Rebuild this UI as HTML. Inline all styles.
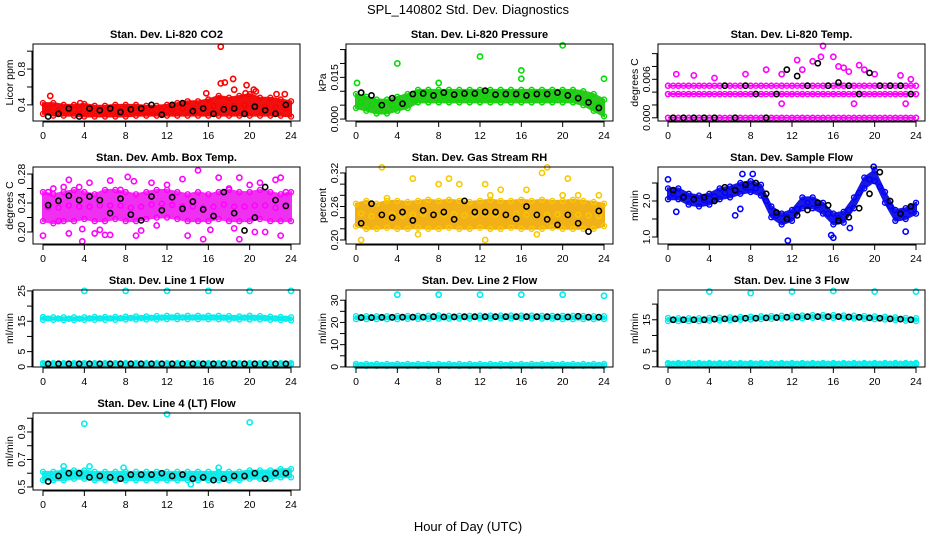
<!DOCTYPE html>
<html><head><meta charset="utf-8"><style>
html,body{margin:0;padding:0;background:#fff;}
svg{display:block;font-family:"Liberation Sans",sans-serif;}
.pt{font-weight:bold;font-size:11px;}
.tk{font-size:10.5px;}
</style></head><body>
<svg id="chart" width="936" height="540" viewBox="0 0 936 540">
<text x="468" y="14" text-anchor="middle" font-size="13">SPL_140802  Std. Dev. Diagnostics</text>
<text x="468" y="531" text-anchor="middle" font-size="13">Hour of Day (UTC)</text>
</svg>
<script>
const hours = [0,1,2,3,4,5,6,7,8,9,10,11,12,13,14,15,16,17,18,19,20,21,22,23,24];
const blackHours = [0.5,1.5,2.5,3.5,4.5,5.5,6.5,7.5,8.5,9.5,10.5,11.5,12.5,13.5,14.5,15.5,16.5,17.5,18.5,19.5,20.5,21.5,22.5,23.5];
const xTicks = [0,4,8,12,16,20,24];

// Panel 1 CO2
const co2Lo = [0.30,0.28,0.28,0.28,0.27,0.27,0.27,0.27,0.27,0.28,0.28,0.28,0.28,0.28,0.28,0.28,0.28,0.28,0.28,0.28,0.28,0.28,0.28,0.28,0.27];
const co2Hi = [0.42,0.42,0.40,0.40,0.41,0.39,0.39,0.40,0.40,0.40,0.39,0.39,0.40,0.42,0.44,0.44,0.46,0.50,0.48,0.50,0.52,0.48,0.48,0.46,0.44];
const co2Out = [[0.7,0.5],[17.2,1.05],[17.2,0.64],[17.6,0.65],[18.4,0.69],[18.5,0.57],[19.7,0.62],[19.6,0.53],[20.4,0.57],[20.6,0.55],[22.6,0.52],[23.4,0.52],[3.6,0.42],[15.8,0.53]];
const co2Black = [0.27,0.30,0.36,0.27,0.36,0.34,0.36,0.32,0.35,0.36,0.40,0.29,0.40,0.42,0.33,0.36,0.30,0.35,0.36,0.30,0.38,0.34,0.30,0.40];
// Panel 2 Pressure
const prLo = [0.004,0.003,0.002,0.002,0.003,0.004,0.006,0.006,0.006,0.006,0.006,0.006,0.006,0.006,0.006,0.006,0.006,0.006,0.006,0.006,0.006,0.006,0.005,0.003,0.001];
const prHi = [0.009,0.008,0.007,0.007,0.008,0.009,0.0105,0.0105,0.0105,0.0105,0.0105,0.0105,0.0105,0.0105,0.0105,0.0105,0.0105,0.0105,0.0105,0.0105,0.0105,0.0105,0.010,0.009,0.007];
const prOut = [[0.1,0.013],[0.5,0.0095],[4,0.020],[8,0.013],[12,0.0225],[16,0.0175],[16,0.0145],[20,0.0265],[24,0.0145]];
const prBlack = [0.0095,0.0085,0.005,0.0075,0.0055,0.009,0.0092,0.0085,0.0095,0.0088,0.0092,0.0092,0.0102,0.0088,0.009,0.009,0.0085,0.009,0.009,0.0095,0.0085,0.0075,0.006,0.004];
// Panel 3 Li-820 temp
const ltA = [0,0,0,0,0,0,0,0,0,0,0,0,0,0,0,0,0,0,0,0,0,0,0,0,0];
const ltB = [0.0037,0.0037,0.0037,0.0037,0.0037,0.0037,0.0037,0.0037,0.0037,0.0037,0.0037,0.0037,0.0037,0.0037,0.0037,0.0037,0.0037,0.0037,0.0037,0.0037,0.0037,0.0037,0.0037,0.0037,0.0037];
const ltC = [0.005,0.005,0.005,0.005,0.005,0.005,0.005,0.005,0.005,0.005,0.005,0.005,0.005,0.005,0.005,0.005,0.005,0.005,0.005,0.005,0.005,0.005,0.005,0.005,0.005];
const ltOut = [[0.8,0.0068],[2.5,0.0066],[4.5,0.0062],[7.5,0.0068],[9.5,0.0075],[11,0.0068],[12.5,0.009],[13,0.0075],[14,0.0088],[14.8,0.0095],[15,0.0112],[16,0.0095],[16.5,0.008],[17,0.0078],[17.5,0.0072],[18.5,0.0082],[19,0.0075],[20,0.0068],[22.5,0.0066],[11,0.0022],[18,0.0022],[23,0.0022],[23.5,0.006]];
const ltBlack = [0,0,0,0,0,0.005,0,0.005,0.0037,0,0.0037,0.0075,0.0065,0.005,0.0085,0.005,0.0055,0.005,0.0037,0.007,0.005,0.005,0.005,0.0037];
// Panel 4 Amb box temp
const abLo = [0.215,0.212,0.215,0.215,0.218,0.215,0.215,0.218,0.215,0.215,0.218,0.22,0.22,0.218,0.215,0.215,0.215,0.218,0.215,0.215,0.215,0.218,0.215,0.215,0.215];
const abHi = [0.255,0.252,0.255,0.258,0.255,0.252,0.258,0.258,0.255,0.252,0.255,0.258,0.258,0.255,0.252,0.255,0.252,0.255,0.258,0.255,0.255,0.258,0.255,0.252,0.255];
const abOut = [[0,0.195],[0.5,0.255],[1,0.26],[1.5,0.215],[2,0.262],[2.5,0.272],[2.5,0.198],[3.5,0.262],[3.8,0.204],[3.8,0.187],[4.5,0.268],[5,0.198],[5.5,0.203],[6,0.196],[6.5,0.271],[6.5,0.196],[7.5,0.258],[8.2,0.276],[8.8,0.27],[9,0.195],[9.5,0.202],[10.5,0.268],[11,0.209],[12,0.265],[13.5,0.273],[14,0.195],[15,0.285],[15.5,0.19],[16.2,0.203],[17,0.275],[18,0.26],[18.5,0.205],[19,0.275],[19,0.19],[20,0.265],[20.5,0.2],[21,0.268],[21.5,0.2],[22.5,0.272],[23,0.275],[23,0.195],[23.5,0.255]];
const abBlack = [0.237,0.243,0.25,0.244,0.249,0.244,0.226,0.246,0.224,0.216,0.249,0.23,0.248,0.232,0.242,0.231,0.222,0.255,0.226,0.202,0.22,0.262,0.244,0.236];
// Panel 5 RH
const rhLo = [0.225,0.22,0.22,0.222,0.22,0.22,0.222,0.22,0.22,0.222,0.22,0.22,0.222,0.22,0.22,0.222,0.22,0.22,0.22,0.222,0.22,0.22,0.22,0.22,0.225];
const rhHi = [0.265,0.27,0.265,0.27,0.27,0.268,0.27,0.272,0.27,0.272,0.27,0.268,0.27,0.272,0.27,0.27,0.272,0.27,0.272,0.27,0.27,0.272,0.27,0.268,0.265];
const rhOut = [[0.5,0.20],[2.5,0.33],[3,0.275],[5.5,0.31],[6,0.21],[8,0.30],[9,0.31],[10,0.30],[12.5,0.30],[13,0.28],[14,0.29],[16.5,0.29],[18.5,0.33],[18,0.32],[20,0.28],[20.5,0.31],[21.5,0.28],[23.5,0.28],[12.5,0.2],[17.5,0.21]];
const rhBlack = [0.23,0.265,0.245,0.24,0.25,0.235,0.253,0.245,0.25,0.237,0.27,0.25,0.25,0.25,0.245,0.238,0.26,0.245,0.237,0.227,0.245,0.23,0.215,0.252];
// Panel 6 Sample flow
const sfLo = [2.05,2.05,1.9,1.85,1.9,2.05,2.1,2.2,2.25,2.15,1.55,1.35,1.45,1.8,1.8,1.65,1.35,1.4,1.8,2.35,2.55,1.95,1.45,1.5,1.65];
const sfHi = [2.35,2.35,2.2,2.15,2.2,2.35,2.4,2.5,2.55,2.45,1.85,1.65,1.75,2.1,2.1,1.95,1.65,1.7,2.1,2.65,2.85,2.25,1.75,1.8,1.95];
const sfOut = [[0,2.6],[0.8,1.7],[6.5,1.6],[7,1.78],[7.2,2.75],[8.2,2.75],[11.6,0.9],[15.8,1.05],[16,0.98],[17.6,1.25],[23,1.15],[19.9,2.95]];
const sfBlack = [2.3,2.1,2.05,2.1,2.0,2.38,2.3,2.45,2.5,2.2,1.68,1.5,1.6,1.75,1.95,1.88,1.45,1.55,1.8,2.2,2.8,2.0,1.65,1.85];
// Panel 7 Line 1
const l1HiLo = [15.5,15.5,15.4,15.4,15.5,15.5,15.5,15.5,15.6,15.6,15.6,15.6,15.7,15.7,15.7,15.7,15.7,15.7,15.6,15.6,15.6,15.6,15.5,15.4,15.3];
const l1HiHi = [16.4,16.3,16.3,16.3,16.3,16.4,16.4,16.4,16.5,16.6,16.6,16.7,16.8,16.8,16.8,16.8,16.8,16.8,16.7,16.6,16.8,16.7,16.5,16.4,16.3];
const l1LoLo = [0.8,0.8,0.8,0.8,0.8,0.8,0.8,0.8,0.8,0.8,0.8,0.8,0.8,0.8,0.8,0.8,0.8,0.8,0.8,0.8,0.8,0.8,0.8,0.8,0.8];
const l1LoHi = [1.2,1.2,1.2,1.2,1.2,1.2,1.2,1.2,1.2,1.2,1.2,1.2,1.2,1.2,1.2,1.2,1.2,1.2,1.2,1.2,1.2,1.2,1.2,1.2,1.2];
const l1Out = [[4,25],[8,25],[12,25],[16,25],[20,25],[24,25]];
const l1Black = [1,1,1,1,1,1,1,1,1,1,1,1,1,1,1,1,1,1,1,1,1,1,1,1];
// Panel 8 Line 2
const l2HiLo = [21.5,21.5,21.5,21.5,21.5,21.6,21.6,21.6,21.7,21.7,21.7,21.7,21.8,21.8,21.8,21.8,21.8,21.8,21.7,21.7,21.5,21.5,21.5,21.5,21.5];
const l2HiHi = [22.8,22.8,22.8,22.8,22.9,22.9,23,23,23.2,23,23,23,23.1,23.1,23.1,23.1,23.1,23.1,23,23,23,23,22.9,22.8,22.8];
const l2LoLo = [0.5,0.5,0.5,0.5,0.5,0.5,0.5,0.5,0.5,0.5,0.5,0.5,0.5,0.5,0.5,0.5,0.5,0.5,0.5,0.5,0.5,0.5,0.5,0.5,0.5];
const l2LoHi = [1.3,1.3,1.3,1.3,1.3,1.3,1.3,1.3,1.3,1.3,1.3,1.3,1.3,1.3,1.3,1.3,1.3,1.3,1.3,1.3,1.3,1.3,1.3,1.3,1.3];
const l2Out = [[4,32.5],[8,32.5],[12,32.5],[16,32.5],[20,32.5],[24,32]];
const l2Black = [22.2,22.2,22.3,22.3,22.4,22.4,22.4,22.6,22.5,22.5,22.6,22.6,22.6,22.6,22.6,22.6,22.6,22.6,22.6,22.5,22.5,22.8,22.4,22.4];
// Panel 9 Line 3
const l3HiLo = [14.6,14.6,14.6,14.6,14.7,14.8,14.9,15,15.1,15.2,15.3,15.4,15.5,15.5,15.6,15.6,15.6,15.5,15.4,15.3,15.2,15.1,14.9,14.7,14.6];
const l3HiHi = [15.6,15.5,15.5,15.5,15.6,15.7,15.8,15.9,16,16.1,16.2,16.3,16.4,16.4,16.5,16.5,16.5,16.4,16.3,16.2,16.1,16,15.8,15.6,15.5];
const l3LoLo = [0.8,0.8,0.8,0.8,0.8,0.8,0.8,0.8,0.8,0.8,0.8,0.8,0.8,0.8,0.8,0.8,0.8,0.8,0.8,0.8,0.8,0.8,0.8,0.8,0.8];
const l3LoHi = [1.2,1.2,1.2,1.2,1.2,1.2,1.2,1.2,1.2,1.2,1.2,1.2,1.2,1.2,1.2,1.2,1.2,1.2,1.2,1.2,1.2,1.2,1.2,1.2,1.2];
const l3Out = [[4,24],[8,23.5],[12,24],[16,24.2],[20,24],[24,24]];
const l3Black = [15,15,15,15,15.2,15.3,15.3,15.5,15.5,15.6,15.7,15.8,15.9,16,16,16,16,15.9,15.8,15.6,15.5,15.3,15.2,15];
// Panel 10 Line 4
const l4Lo = [0.55,0.55,0.55,0.56,0.56,0.55,0.55,0.55,0.55,0.55,0.55,0.55,0.55,0.55,0.55,0.55,0.55,0.55,0.55,0.55,0.56,0.56,0.56,0.57,0.57];
const l4Hi = [0.61,0.61,0.62,0.62,0.62,0.61,0.61,0.61,0.61,0.61,0.61,0.61,0.61,0.61,0.61,0.61,0.61,0.61,0.61,0.61,0.62,0.62,0.62,0.63,0.63];
const l4Out = [[4,0.96],[12,1.03],[20,0.97],[2,0.65],[4.5,0.65],[17,0.64],[14.3,0.52],[7.8,0.64]];
const l4Black = [0.54,0.58,0.6,0.6,0.57,0.58,0.57,0.56,0.59,0.59,0.59,0.6,0.58,0.59,0.56,0.57,0.55,0.56,0.58,0.58,0.6,0.56,0.6,0.6];

const NS = "http://www.w3.org/2000/svg";
const svg = document.getElementById("chart");
function mk(tag, attrs, parent){const e=document.createElementNS(NS,tag);for(const k in attrs)e.setAttribute(k,attrs[k]);(parent||svg).appendChild(e);return e;}

const panels = [
 {title:"Stan. Dev. Li-820 CO2", ylab:"Licor ppm", col:0,row:0, ylim:[0.22,1.08], ticks:[0.4,0.6,0.8,1.0], labels:[0.4,0.8], fmt:1, color:"#ff0000", fill:"#f01010", bands:[[co2Lo,co2Hi]], out:co2Out, black:co2Black},
 {title:"Stan. Dev. Li-820 Pressure", ylab:"kPa", col:1,row:0, ylim:[-0.0007,0.027], ticks:[0,0.005,0.01,0.015,0.02,0.025], labels:[0,0.015], fmt:3, color:"#00dd00", fill:"#30c820", bands:[[prLo,prHi]], out:prOut, black:prBlack},
 {title:"Stan. Dev. Li-820 Temp.", ylab:"degrees C", col:2,row:0, ylim:[-0.0005,0.0115], ticks:[0,0.002,0.004,0.006,0.008,0.01], labels:[0,0.006], fmt:3, color:"#ff00ff", fill:"#ff00ff", bands:[[ltA,ltA],[ltB,ltB],[ltC,ltC]], out:ltOut, black:ltBlack},
 {title:"Stan. Dev. Amb. Box Temp.", ylab:"degrees C", col:0,row:1, ylim:[0.1834,0.2897], ticks:[0.2,0.22,0.24,0.26,0.28], labels:[0.2,0.24,0.28], fmt:2, color:"#ff00ff", fill:"#f030f0", bands:[[abLo,abHi]], out:abOut, black:abBlack},
 {title:"Stan. Dev. Gas Stream RH", ylab:"percent", col:1,row:1, ylim:[0.1928,0.3307], ticks:[0.2,0.22,0.24,0.26,0.28,0.3,0.32], labels:[0.2,0.26,0.32], fmt:2, color:"#f8c800", fill:"#f2b018", bands:[[rhLo,rhHi]], out:rhOut, black:rhBlack},
 {title:"Stan. Dev. Sample Flow", ylab:"ml/min", col:2,row:1, ylim:[0.806,2.944], ticks:[1.0,1.5,2.0,2.5], labels:[1.0,2.0], fmt:1, color:"#0000ff", fill:"#1818e0", bands:[[sfLo,sfHi]], out:sfOut, black:sfBlack},
 {title:"Stan. Dev. Line 1 Flow", ylab:"ml/min", col:0,row:2, ylim:[-0.07,25.3], ticks:[0,5,10,15,20,25], labels:[0,5,15,25], fmt:0, color:"#00eeee", fill:"#20e8e8", bands:[[l1HiLo,l1HiHi],[l1LoLo,l1LoHi]], out:l1Out, black:l1Black},
 {title:"Stan. Dev. Line 2 Flow", ylab:"ml/min", col:1,row:2, ylim:[-0.05,34.6], ticks:[0,5,10,15,20,25,30], labels:[0,10,20,30], fmt:0, color:"#00eeee", fill:"#20e8e8", bands:[[l2HiLo,l2HiHi],[l2LoLo,l2LoHi]], out:l2Out, black:l2Black},
 {title:"Stan. Dev. Line 3 Flow", ylab:"ml/min", col:2,row:2, ylim:[-0.06,24.5], ticks:[0,5,10,15,20], labels:[0,5,15], fmt:0, color:"#00eeee", fill:"#20e8e8", bands:[[l3HiLo,l3HiHi],[l3LoLo,l3LoHi]], out:l3Out, black:l3Black},
 {title:"Stan. Dev. Line 4 (LT) Flow", ylab:"ml/min", col:0,row:3, ylim:[0.478,1.038], ticks:[0.5,0.6,0.7,0.8,0.9,1.0], labels:[0.5,0.7,0.9], fmt:1, color:"#00eeee", fill:"#20e8e8", bands:[[l4Lo,l4Hi]], out:l4Out, black:l4Black}
];
const colLeft=[33,346,658], W=267, rowTop=[44,167,290,413], H=77;

panels.forEach((p,i)=>{
  const L=colLeft[p.col], T=rowTop[p.row], R=L+W, B=T+H;
  const X=v=>L+10+(v/24)*(W-19);
  const Y=v=>B-(v-p.ylim[0])/(p.ylim[1]-p.ylim[0])*H;
  const g=mk("g",{});
  
  
  const t=mk("text",{x:(L+R)/2,y:T-6,"text-anchor":"middle",class:"pt"},g);t.textContent=p.title;
  
  
  const yl=mk("text",{x:0,y:0,"text-anchor":"middle","font-size":"10.5",transform:`translate(${L-20},${(T+B)/2}) rotate(-90)`},g);yl.textContent=p.ylab;
  
  
  p.bands.forEach(([lo,hi])=>{
    let d=hours.map((h,k)=>`${X(h)},${Y(hi[k])}`).join(" ")+" "+hours.slice().reverse().map((h,k)=>`${X(h)},${Y(lo[hours.length-1-k])}`).join(" ");
    const band=mk("polygon",{points:d,fill:p.fill,stroke:p.fill,"stroke-width":2},g);
    
    
    hours.forEach((h,k)=>{
      [lo[k],hi[k]].forEach(v=>{
        const c=mk("circle",{cx:X(h),cy:Y(v),r:2.5,fill:"none",stroke:p.color,"stroke-width":1.4},g);
        
        
      });
      if(k<hours.length-1){
        const c=mk("circle",{cx:X(h+0.5),cy:Y((lo[k]+hi[k+1])/2),r:2.5,fill:"none",stroke:p.color,"stroke-width":1.4},g);
        
        
      }
    });
  });
  p.out.forEach(([h,v])=>{
    const c=mk("circle",{cx:X(h),cy:Y(v),r:2.6,fill:"none",stroke:p.color,"stroke-width":1.6},g);
    
    
  });
  p.black.forEach((v,k)=>{
    const c=mk("circle",{cx:X(blackHours[k]),cy:Y(v),r:2.6,fill:"none",stroke:"#000","stroke-width":1.6},g);
    
    
  });
  const box=mk("rect",{x:L,y:T,width:W,height:H,fill:"none",stroke:"#000","stroke-width":1},g);
  
  
  mk("line",{x1:X(0),x2:X(24),y1:B+1,y2:B+1,stroke:"#000"},g);
  xTicks.forEach(h=>{
    mk("line",{x1:X(h),x2:X(h),y1:B,y2:B+6,stroke:"#000"},g);
    const tx=mk("text",{x:X(h),y:B+18,"text-anchor":"middle",class:"tk"},g);tx.textContent=h;
    
    
  });
  mk("line",{x1:L-1,x2:L-1,y1:Y(p.ticks[0]),y2:Y(p.ticks[p.ticks.length-1]),stroke:"#000"},g);
  p.ticks.forEach(v=>{mk("line",{x1:L-6,x2:L,y1:Y(v),y2:Y(v),stroke:"#000"},g);});
  p.labels.forEach(v=>{
    const ty=mk("text",{x:0,y:0,"text-anchor":"middle",class:"tk",transform:`translate(${L-8},${Y(v)}) rotate(-90)`},g);
    ty.textContent=v.toFixed(p.fmt);
    
    
  });
});
</script>
</body></html>
